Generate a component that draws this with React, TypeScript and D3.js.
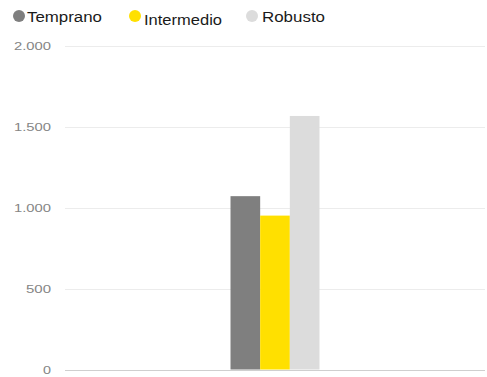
import React from "react";
import * as d3 from "d3";

const categories = [""];
const seriesNames = ["Temprano", "Intermedio", "Robusto"];
const seriesColors = ["#7f7f7f", "#ffe000", "#dcdcdc"];
const temprano = [1070];
const intermedio = [950];
const robusto = [1565];
const yTicks = [0, 500, 1000, 1500, 2000];

const W = 487;
const H = 377;

export default function App() {
  const values = [temprano, intermedio, robusto];
  const y = d3.scaleLinear().domain([0, 2000]).range([369.5, 45.5]);
  const x0 = d3.scaleBand().domain(categories).range([65, 485]).paddingOuter(1.86).paddingInner(0);
  const x1 = d3.scaleBand().domain(seriesNames).range([0, x0.bandwidth()]).padding(0);
  const fmt = (v: number) => d3.format(",")(v).replace(/,/g, ".");
  const legendX = [19, 135, 252];
  const legendTextX = [27, 144, 262];
  const legendTextY = [22, 25, 22];
  const legendLen = [75, 78, 63];
  return (
    <div style={{ position: "absolute", left: 0, top: 0 }}>
      <svg width={W} height={H} style={{ display: "block", background: "#fff" }} fontFamily="'Liberation Sans', Arial, sans-serif">
        {yTicks.map((t) => (
          <g key={t}>
            <line x1={65} x2={485} y1={Math.round(y(t)) + 0.5} y2={Math.round(y(t)) + 0.5} stroke={t === 0 ? "#cfcfcf" : "#ececec"} strokeWidth={1} />
            <text x={51} y={y(t) + 4} textAnchor="end" fontSize={11} fill="#858585"
              textLength={fmt(t).length > 1 ? (fmt(t).length === 3 ? 25 : 37) : 8} lengthAdjust="spacingAndGlyphs">{fmt(t)}</text>
          </g>
        ))}
        {categories.map((c, ci) => (
          <g key={ci} transform={`translate(${x0(c)},0)`}>
            {seriesNames.map((s, si) => (
              <rect key={s} x={x1(s)} y={y(values[si][ci])} width={x1.bandwidth()} height={y(0) - y(values[si][ci])} fill={seriesColors[si]} />
            ))}
          </g>
        ))}
        {seriesNames.map((s, i) => (
          <g key={s}>
            <circle cx={legendX[i]} cy={16} r={6} fill={seriesColors[i]} />
            <text x={legendTextX[i]} y={legendTextY[i]} fontSize={14} fill="#1a1a1a" textLength={legendLen[i]} lengthAdjust="spacingAndGlyphs">{s}</text>
          </g>
        ))}
      </svg>
    </div>
  );
}
